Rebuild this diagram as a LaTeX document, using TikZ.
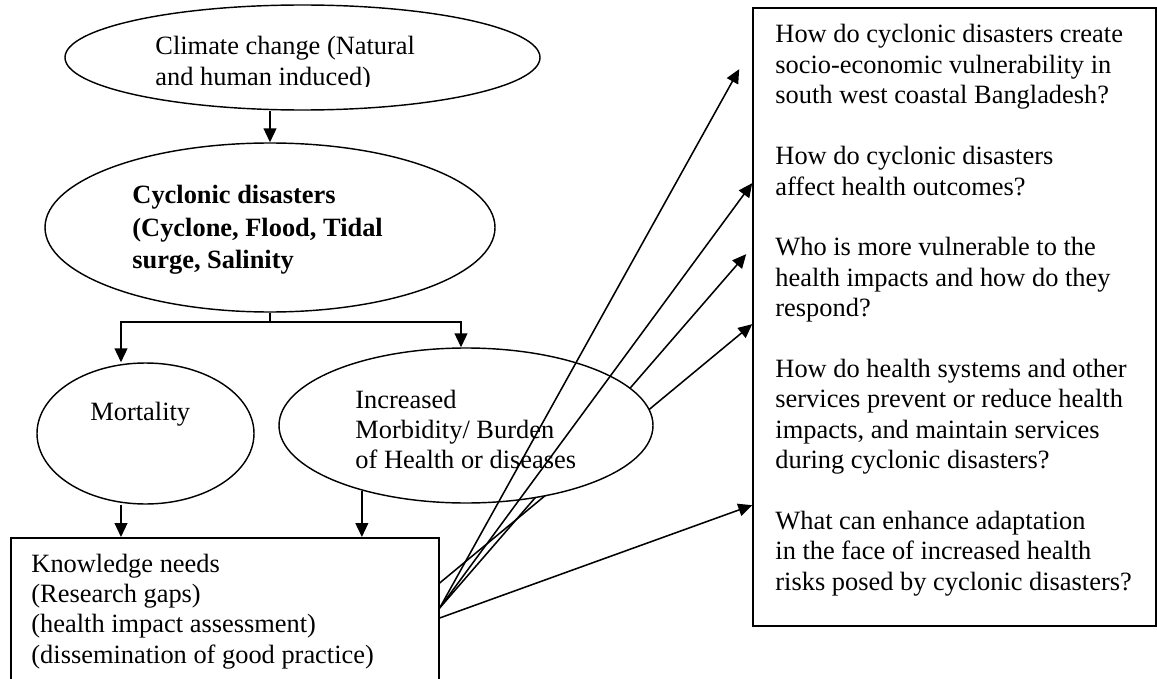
\documentclass[tikz,border=0pt]{standalone}
\usepackage{fontspec}
\setmainfont{Liberation Serif}
\usetikzlibrary{shapes.geometric,arrows.meta,calc}

% one drawing unit
\newcommand\pxl{0.4545pt}
% left-aligned lines with a fixed baseline distance; baseline = first line
\newcommand\textlines[2]{\vtop{\baselineskip=#1\lineskiplimit=-20pt\lineskip=0pt\halign{##\hfil\cr#2\crcr}}}
\newcommand\gap{\noalign{\vskip13.82pt}}

\begin{document}
\begin{tikzpicture}[x=\pxl, y=-\pxl,
  oval/.style={draw, ellipse, inner sep=0pt, line width=0.65pt},
  frame/.style={draw, rectangle, inner sep=0pt, line width=0.75pt},
  txt/.style={anchor=base west, inner sep=0pt, font=\fontsize{12}{13.8}\selectfont},
  link/.style={line width=0.7pt},
  arr/.style={line width=0.7pt, -{Triangle[length=6.3pt,width=5.8pt]}}]

\useasboundingbox (0,0) rectangle (1157,679);
\fill[white] (0,0) rectangle (1157,679);

% research questions
\node[frame, minimum width=403*\pxl, minimum height=618*\pxl] (qbox) at (954.5,317) {};
\node[txt] (tq) at (775,43) {\textlines{13.82pt}{%
How do cyclonic disasters create\cr
socio-economic vulnerability in\cr
south west coastal Bangladesh?\cr\gap
How do cyclonic disasters\cr
affect health outcomes?\cr\gap
Who is more vulnerable to the\cr
health impacts and how do they\cr
respond?\cr\gap
How do health systems and other\cr
services prevent or reduce health\cr
impacts, and maintain services\cr
during cyclonic disasters?\cr\gap
What can enhance adaptation\cr
in the face of increased health\cr
risks posed by cyclonic disasters?}};

% climate change
\node[oval, minimum width=475*\pxl, minimum height=105*\pxl] (e1) at (302.5,57.5) {};
\begin{scope}
  \clip (0,0) rectangle (1157,86.5);
  \node[txt] (t1) at (155,55) {\textlines{13.82pt}{Climate change (Natural\cr and human induced)}};
\end{scope}

% cyclonic disasters
\node[oval, minimum width=450*\pxl, minimum height=169*\pxl] (e2) at (270,227.5) {};
\node[txt] (t2) at (132,204) {\bfseries\textlines{14.77pt}{Cyclonic disasters\cr (Cyclone, Flood, Tidal\cr surge, Salinity}};

% mortality
\node[oval, minimum width=217*\pxl, minimum height=141*\pxl] (mort) at (145.5,433.5) {};
\node[txt] (tmort) at (90,420) {Mortality};

% knowledge needs
\node[frame, anchor=north west, minimum width=428*\pxl, minimum height=200*\pxl] (kb) at (10,537) {};
\node[txt] (tkb) at (31,572) {\textlines{13.82pt}{Knowledge needs\cr (Research gaps)\cr (health impact assessment)\cr (dissemination of good practice)}};

% start and end points of the question arrows
\coordinate (o1) at ($(kb.north east)+(0,71)$);
\coordinate (o2) at ($(kb.north east)+(0,46)$);
\coordinate (o3) at ($(kb.north east)+(0,81)$);
\coordinate (q1) at ($(qbox.north west)+(-13,62)$);
\coordinate (q2) at ($(qbox.north west)+(0,176)$);
\coordinate (q3) at ($(qbox.north west)+(-6,247)$);
\coordinate (q4) at ($(qbox.north west)+(0,317)$);
\coordinate (q5) at ($(qbox.north west)+(0,498)$);

% these two pass behind the morbidity oval
\draw[arr] (o1) -- (q3);
\draw[arr] (o2) -- (q4);

% morbidity
\node[oval, fill=white, minimum width=374*\pxl, minimum height=155*\pxl] (morb) at (466,425.5) {};
\begin{scope}
  \clip (0,0) rectangle (1157,471);
  \node[txt] (tmorb) at (355,408) {\textlines{13.82pt}{Increased\cr Morbidity/ Burden\cr of Health or diseases}};
\end{scope}

% these pass in front of it
\draw[arr] (o1) -- (q1);
\draw[arr] (o1) -- (q2);
\draw[arr] (o3) -- (q5);

% flow between the ovals and the box
\coordinate (jl) at (121,322);
\coordinate (jr) at (461,322);
\draw[arr] (e2.north |- e1.south) -- (e2.north);
\draw[link] (e2.south) -- (jl -| e2.south);
\draw[arr] (jl -| e2.south) -- (jl) -- (jl |- mort.north);
\draw[arr] (jl -| e2.south) -- (jr) -- (jr |- morb.north);
\draw[arr] (jl |- mort.south) -- (jl |- kb.north);
\draw[arr] (morb.212.5) -- (morb.212.5 |- kb.north);

\end{tikzpicture}
\end{document}
